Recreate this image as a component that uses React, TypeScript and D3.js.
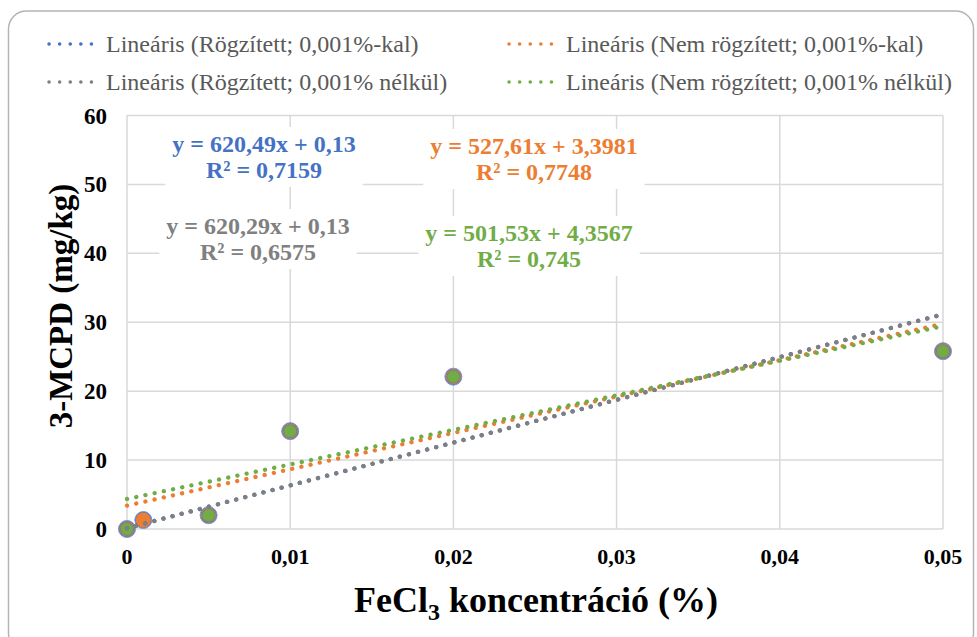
import React from "react";
import * as d3 from "d3";

const xTicks = [0, 0.01, 0.02, 0.03, 0.04, 0.05];
const yTicks = [0, 10, 20, 30, 40, 50, 60];

const xWith = [0, 0.001, 0.005, 0.01, 0.02, 0.05];
const yWith = [0, 1.3, 2.0, 14.2, 22.1, 25.8];
const xWithout = [0, 0.005, 0.01, 0.02, 0.05];
const yWithout = [0, 2.0, 14.2, 22.1, 25.8];

const seriesNames = [
  "Lineáris (Rögzített; 0,001%-kal)",
  "Lineáris (Nem rögzített; 0,001%-kal)",
  "Lineáris (Rögzített; 0,001% nélkül)",
  "Lineáris (Nem rögzített; 0,001% nélkül)",
];
const seriesColors = ["#4472C4", "#ED7D31", "#7F7F7F", "#70AD47"];
const slopes = [620.49, 527.61, 620.29, 501.53];
const intercepts = [0.13, 3.3981, 0.13, 4.3567];
const eqTexts = [
  "y = 620,49x + 0,13",
  "y = 527,61x + 3,3981",
  "y = 620,29x + 0,13",
  "y = 501,53x + 4,3567",
];
const r2Texts = ["R² = 0,7159", "R² = 0,7748", "R² = 0,6575", "R² = 0,745"];
const eqTextColors = ["#4472C4", "#ED7D31", "#808080", "#70AD47"];
const markerRadii = [8.5, 7.6, 7, 6];

const W = 977;
const H = 637;
const FONT = "Liberation Serif, Tinos, Times New Roman, DejaVu Serif, serif";

function measure(text: string, font: string): number {
  if (typeof document === "undefined") return text.length * 10;
  const c = document.createElement("canvas");
  const ctx = c.getContext("2d");
  if (!ctx) return text.length * 10;
  ctx.font = font;
  return ctx.measureText(text).width;
}

export default function App() {
  const x = d3.scaleLinear().domain([0, 0.05]).range([127, 943]);
  const y = d3.scaleLinear().domain([0, 60]).range([529, 115.5]);
  const fmt = (v: number) => (v === 0 ? "0" : d3.format(".2f")(v).replace(".", ","));

  const seriesX = [xWith, xWith, xWithout, xWithout];
  const seriesY = [yWith, yWith, yWithout, yWithout];

  const labelPos = [
    { cx: 264, by: 152 },
    { cx: 534, by: 154 },
    { cx: 258, by: 234 },
    { cx: 529, by: 241 },
  ];
  const EQ = 24;
  const labelFont = `bold ${EQ}px "Liberation Serif", serif`;
  const tf: React.CSSProperties = { fontFamily: FONT };

  return (
    <svg
      width={W}
      height={H}
      style={{ position: "absolute", left: 0, top: 0, background: "#fff", fontFamily: FONT }}
    >
      <rect x={0} y={0} width={W} height={H} fill="#fff" />
      <rect
        x={8.5}
        y={11}
        width={965}
        height={640}
        rx={18}
        fill="#fff"
        stroke="#b4b4b4"
        strokeWidth={1.5}
      />
      {yTicks.map((t) => (
        <line
          key={"gy" + t}
          x1={x(0)}
          x2={x(0.05)}
          y1={y(t)}
          y2={y(t)}
          stroke="#d9d9d9"
          strokeWidth={1.5}
        />
      ))}
      {xTicks.map((t) => (
        <line
          key={"gx" + t}
          x1={x(t)}
          x2={x(t)}
          y1={y(0)}
          y2={y(60)}
          stroke="#d9d9d9"
          strokeWidth={1.5}
        />
      ))}
      {yTicks.map((t) => (
        <text
          key={"ty" + t}
          x={107}
          y={y(t)}
          dy="0.35em"
          textAnchor="end"
          fontWeight="bold"
          fontSize={23}
          fill="#000"
          style={tf}
        >
          {t}
        </text>
      ))}
      {xTicks.map((t) => (
        <text
          key={"tx" + t}
          x={x(t)}
          y={564}
          textAnchor="middle"
          fontWeight="bold"
          fontSize={22}
          fill="#000"
          style={tf}
        >
          {fmt(t)}
        </text>
      ))}
      <text
        transform={`translate(72,306) rotate(-90)`}
        textAnchor="middle"
        fontWeight="bold"
        fontSize={33}
        fill="#000"
        style={tf}
      >
        3-MCPD (mg/kg)
      </text>
      <text x={536} y={612} textAnchor="middle" fontWeight="bold" fontSize={36} fill="#000" style={tf}>
        FeCl<tspan fontSize={24} dy={8}>3</tspan>
        <tspan dy={-8}> koncentráció (%)</tspan>
      </text>
      {seriesX.map((xs, si) => (
        <g key={"m" + si}>
          {xs.map((xv, i) => (
            <circle
              key={i}
              cx={x(xv)}
              cy={y(seriesY[si][i])}
              r={markerRadii[si]}
              fill={seriesColors[si]}
              stroke={si === 0 ? "#7a9ad6" : "none"}
              strokeWidth={1}
            />
          ))}
        </g>
      ))}
      {slopes.map((s, si) => {
        const pts = [0, 0.05];
        const d = d3
          .line<number>()
          .x((v) => x(v))
          .y((v) => y(s * v + intercepts[si]))(pts);
        return (
          <path
            key={"tl" + si}
            d={d || ""}
            fill="none"
            stroke={seriesColors[si]}
            strokeWidth={4.3}
            strokeLinecap="round"
            strokeDasharray="0.1 9.3"
          />
        );
      })}
      {eqTexts.map((t, i) => {
        const w = Math.max(measure(t, labelFont), measure(r2Texts[i], labelFont)) + 14;
        const p = labelPos[i];
        return (
          <g key={"eq" + i}>
            <rect x={p.cx - w / 2} y={p.by - 25} width={w} height={60} fill="#fff" />
            <text
              x={p.cx}
              y={p.by}
              textAnchor="middle"
              fontWeight="bold"
              fontSize={EQ}
              fill={eqTextColors[i]}
              style={tf}
            >
              {t}
            </text>
            <text
              x={p.cx}
              y={p.by + 26}
              textAnchor="middle"
              fontWeight="bold"
              fontSize={EQ}
              fill={eqTextColors[i]}
              style={tf}
            >
              {r2Texts[i]}
            </text>
          </g>
        );
      })}
      {seriesNames.map((n, i) => {
        const col = i % 2;
        const row = Math.floor(i / 2);
        const lx = col === 0 ? 49 : 509;
        const ly = 44 + row * 38;
        return (
          <g key={"lg" + i}>
            <line
              x1={lx}
              x2={lx + 53}
              y1={ly}
              y2={ly}
              stroke={seriesColors[i]}
              strokeWidth={3.5}
              strokeLinecap="round"
              strokeDasharray="0.1 10.5"
            />
            <text x={lx + 57} y={ly} dy="0.33em" fontSize={24} fill="#595959" style={tf}>
              {n}
            </text>
          </g>
        );
      })}
    </svg>
  );
}
